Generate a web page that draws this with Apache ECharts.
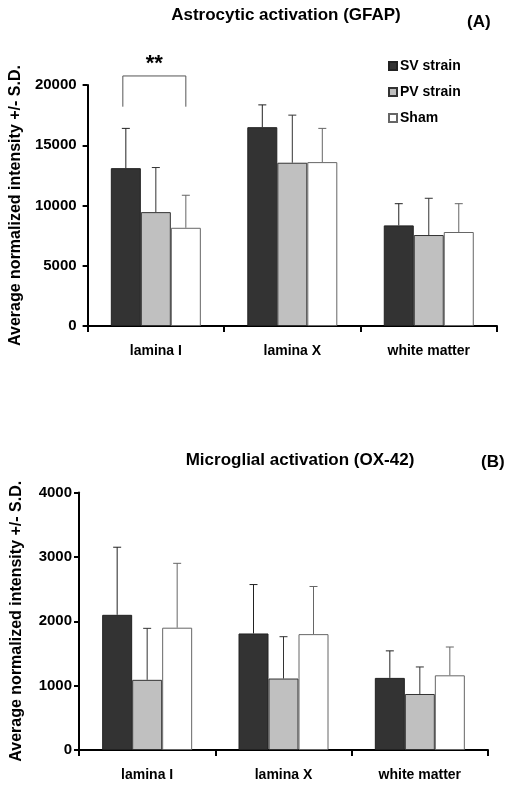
<!DOCTYPE html>
<html>
<head>
<meta charset="utf-8">
<script src="https://cdn.jsdelivr.net/npm/echarts@6/dist/echarts.min.js"></script>
<style>
  html, body { margin: 0; padding: 0; background: #fff; }
  #chart { width: 505px; height: 786px; }
</style>
</head>
<body>
<div id="chart"></div>
<script>
// categories and values (mean, S.D.)
const categories = ["lamina I", "lamina X", "white matter"];
const seriesNames = ["SV strain", "PV strain", "Sham"];

const gfapSV = [13100, 16500, 8350];
const gfapSVsd = [3300, 1850, 1800];
const gfapPV = [9450, 13550, 7550];
const gfapPVsd = [3700, 3950, 3050];
const gfapSham = [8150, 13600, 7800];
const gfapShamSd = [2700, 2800, 2350];

const oxSV = [2100, 1810, 1120];
const oxSVsd = [1050, 760, 420];
const oxPV = [1090, 1110, 870];
const oxPVsd = [800, 650, 420];
const oxSham = [1900, 1800, 1160];
const oxShamSd = [1000, 740, 440];

const gfapTicks = [0, 20000, 5000]; // min, max, interval
const oxTicks = [0, 4000, 1000];

// significance bracket: category, from series, to series, top, leg bottom
const sigBracket = [[0, 0, 2, 20750, 18200]];

const FONT = "Liberation Sans, Arial, sans-serif";
const BAR_W = 30;
const fills = ["#333333", "#c0c0c0", "#ffffff"];
const borders = ["#222222", "#333333", "#666666"];

const chart = echarts.init(document.getElementById("chart"));

function errRender(idx) {
  return function (params, api) {
    const c = api.value(0);
    const base = api.coord([c, api.value(1)]);
    const top = api.coord([c, api.value(1) + api.value(2)]);
    const x = base[0] + (idx - 1) * BAR_W;
    const st = { stroke: borders[idx], lineWidth: 1 };
    return {
      type: "group",
      children: [
        { type: "line", shape: { x1: x, y1: base[1], x2: x, y2: top[1] }, style: st },
        { type: "line", shape: { x1: x - 4, y1: top[1], x2: x + 4, y2: top[1] }, style: st }
      ]
    };
  };
}

function bracketRender(params, api) {
  const c = api.value(0);
  const center = api.coord([c, api.value(3)]);
  const low = api.coord([c, api.value(4)]);
  const x1 = center[0] + (api.value(1) - 1) * BAR_W - 3;
  const x2 = center[0] + (api.value(2) - 1) * BAR_W;
  const y = center[1];
  const st = { stroke: "#555", lineWidth: 1, fill: null };
  return {
    type: "group",
    children: [
      { type: "polyline", shape: { points: [[x1, low[1]], [x1, y], [x2, y], [x2, low[1]]] }, style: st },
      { type: "text", style: { text: "**", x: (x1 + x2) / 2, y: y - 1, align: "center", verticalAlign: "bottom",
        font: "bold 22px " + FONT, fill: "#000" } }
    ]
  };
}

function barSeries(name, data, idx, axis) {
  return {
    name: name, type: "bar", data: data, xAxisIndex: axis, yAxisIndex: axis,
    barWidth: BAR_W, barGap: "0%",
    itemStyle: { color: fills[idx], borderColor: borders[idx], borderWidth: 1 },
    silent: true
  };
}

function errSeries(means, sds, idx, axis) {
  return {
    type: "custom", xAxisIndex: axis, yAxisIndex: axis, z: 5, silent: true,
    renderItem: errRender(idx),
    data: means.map((m, i) => [i, m, sds[i]])
  };
}

const axisText = { color: "#000", fontFamily: FONT, fontWeight: "bold", fontSize: 14 };

function xAxis(grid) {
  return {
    type: "category", gridIndex: grid, data: categories,
    axisLine: { lineStyle: { color: "#000", width: 2 } },
    axisTick: { show: true, length: 6, lineStyle: { color: "#000", width: 2 } },
    axisLabel: Object.assign({ margin: 18 }, axisText)
  };
}

function yAxis(grid, ticks, margin, gap) {
  return {
    type: "value", gridIndex: grid, min: ticks[0], max: ticks[1], interval: ticks[2],
    name: "Average normalized intensity +/- S.D.", nameLocation: "middle", nameGap: gap,
    nameTextStyle: Object.assign({}, axisText, { fontSize: 16 }),
    axisLine: { show: true, lineStyle: { color: "#000", width: 2 } },
    axisTick: { show: true, length: 5, lineStyle: { color: "#000", width: 2 } },
    axisLabel: Object.assign({ margin: margin, formatter: (v) => String(v) }, axisText, { fontSize: 15 }),
    splitLine: { show: false }
  };
}

const titleStyle = { color: "#000", fontFamily: FONT, fontWeight: "bold", fontSize: 17 };

chart.setOption({
  animation: false,
  title: [
    { text: "Astrocytic activation (GFAP)", left: 286, top: 7, textAlign: "center", textStyle: titleStyle, padding: 0 },
    { text: "(A)", left: 467, top: 14, textStyle: titleStyle, padding: 0 },
    { text: "Microglial activation (OX-42)", left: 300, top: 452, textAlign: "center", textStyle: titleStyle, padding: 0 },
    { text: "(B)", left: 481, top: 454, textStyle: titleStyle, padding: 0 }
  ],
  legend: {
    data: seriesNames, orient: "vertical", left: 388, top: 59, padding: 0,
    icon: "rect", itemWidth: 8, itemHeight: 8, itemGap: 12,
    textStyle: { color: "#000", fontFamily: FONT, fontWeight: "bold", fontSize: 14, lineHeight: 14, padding: [0, 0, 0, -2] },
    selectedMode: false
  },
  grid: [
    { left: 84, right: 8, top: 85, height: 241 },
    { left: 79, right: 17, top: 492.5, height: 257.5 }
  ],
  xAxis: [xAxis(0), xAxis(1)],
  yAxis: [yAxis(0, gfapTicks, 11, 58), yAxis(1, oxTicks, 7, 54)],
  series: [
    barSeries(seriesNames[0], gfapSV, 0, 0),
    barSeries(seriesNames[1], gfapPV, 1, 0),
    barSeries(seriesNames[2], gfapSham, 2, 0),
    errSeries(gfapSV, gfapSVsd, 0, 0),
    errSeries(gfapPV, gfapPVsd, 1, 0),
    errSeries(gfapSham, gfapShamSd, 2, 0),
    { type: "custom", xAxisIndex: 0, yAxisIndex: 0, z: 5, silent: true, clip: false,
      renderItem: bracketRender, data: sigBracket },
    barSeries(seriesNames[0], oxSV, 0, 1),
    barSeries(seriesNames[1], oxPV, 1, 1),
    barSeries(seriesNames[2], oxSham, 2, 1),
    errSeries(oxSV, oxSVsd, 0, 1),
    errSeries(oxPV, oxPVsd, 1, 1),
    errSeries(oxSham, oxShamSd, 2, 1)
  ]
});

window.addEventListener("resize", () => chart.resize());
</script>
</body>
</html>
